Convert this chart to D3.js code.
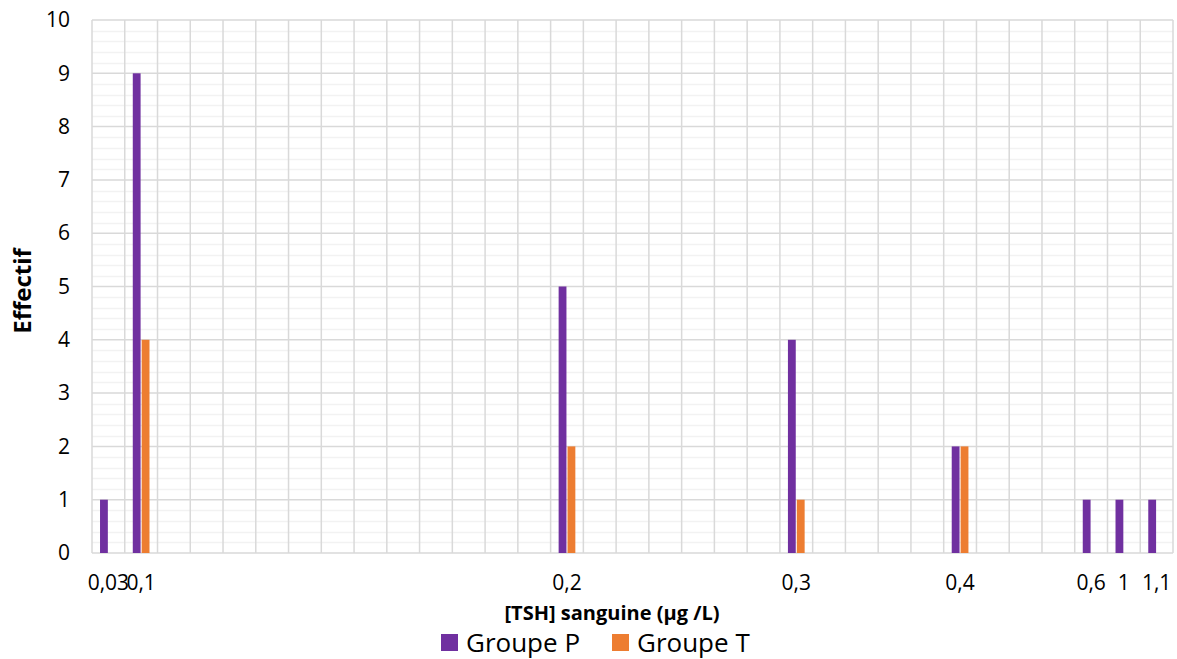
<!DOCTYPE html>
<html>
<head>
<meta charset="utf-8">
<script src="https://cdn.jsdelivr.net/npm/d3@7"></script>
<style>
  html, body { margin: 0; padding: 0; background: #fff; }
  svg { display: block; font-family: "Open Sans", sans-serif; }
</style>
</head>
<body>
<svg id="chart" width="1177" height="659"></svg>
<script>
// 33 category slots on the x axis; only some carry a label
const categoryLabels = ["0,03","0,1","","","","","","","","","","","","","0,2","","","","","","","0,3","","","","","0,4","","","","0,6","1","1,1"];
const groupP = [1,9,0,0,0,0,0,0,0,0,0,0,0,0,5,0,0,0,0,0,0,4,0,0,0,0,2,0,0,0,1,1,1];
const groupT = [0,4,0,0,0,0,0,0,0,0,0,0,0,0,2,0,0,0,0,0,0,1,0,0,0,0,2,0,0,0,0,0,0];
const seriesNames = ["Groupe P", "Groupe T"];
const seriesColors = ["#7030A0", "#ED7D31"];
const yTicks = [0,1,2,3,4,5,6,7,8,9,10];

const svg = d3.select("#chart");
const m = { left: 92, right: 1173, top: 20, bottom: 553 };

const idx = d3.range(categoryLabels.length);
const x = d3.scaleBand().domain(idx).range([m.left, m.right]).paddingInner(0).paddingOuter(0);
const y = d3.scaleLinear().domain([0, 10]).range([m.bottom, m.top]);
const groupW = x.bandwidth() * 0.51;
const xs = d3.scaleBand().domain([0, 1]).range([-groupW / 2, groupW / 2]).paddingInner(0.12);

// minor horizontal gridlines
const minor = d3.range(0, 10.0001, 0.2).filter(v => Math.abs(v - Math.round(v)) > 1e-6);
svg.append("g").selectAll("line").data(minor).join("line")
  .attr("x1", m.left).attr("x2", m.right)
  .attr("y1", d => Math.round(y(d)) + 0.5).attr("y2", d => Math.round(y(d)) + 0.5)
  .attr("stroke", "#f2f2f2").attr("stroke-width", 1.5);

// vertical gridlines (category boundaries)
const bounds = idx.map(i => x(i)).concat([m.right]);
svg.append("g").selectAll("line").data(bounds).join("line")
  .attr("x1", d => d).attr("x2", d => d)
  .attr("y1", m.top).attr("y2", m.bottom)
  .attr("stroke", "#d9d9d9").attr("stroke-width", 1.5);

// major horizontal gridlines
svg.append("g").selectAll("line").data(yTicks).join("line")
  .attr("x1", m.left).attr("x2", m.right)
  .attr("y1", d => y(d)).attr("y2", d => y(d))
  .attr("stroke", "#d9d9d9").attr("stroke-width", 1.5);

// bars
[groupP, groupT].forEach((vals, s) => {
  svg.append("g").selectAll("rect").data(idx.filter(i => vals[i] > 0)).join("rect")
    .attr("x", i => x(i) + x.bandwidth() / 2 + xs(s))
    .attr("width", xs.bandwidth())
    .attr("y", i => y(vals[i]))
    .attr("height", i => y(0) - y(vals[i]))
    .attr("fill", seriesColors[s]);
});

// y axis labels
const yAxis = d3.axisLeft(y).tickValues(yTicks).tickSize(0).tickPadding(22).tickFormat(d3.format("d"));
const gy = svg.append("g").attr("transform", `translate(${m.left},0)`).call(yAxis);
gy.select(".domain").remove();
gy.selectAll("text").attr("font-family", "Open Sans").attr("font-size", 21).attr("fill", "#000");

// x axis labels
const xAxis = d3.axisBottom(x).tickSize(0).tickPadding(23).tickFormat(i => categoryLabels[i]);
const gx = svg.append("g").attr("transform", `translate(0,${m.bottom})`).call(xAxis);
gx.select(".domain").remove();
gx.selectAll("text").attr("font-family", "Open Sans").attr("font-size", 21).attr("fill", "#000")
  .attr("dy", "0.66em");

// axis titles
svg.append("text").attr("x", 612).attr("y", 620).attr("text-anchor", "middle")
  .attr("font-family", "Open Sans").attr("font-weight", "bold").attr("font-size", 20).attr("fill", "#000")
  .text("[TSH] sanguine (µg /L)");
svg.append("text").attr("transform", "translate(31,291) rotate(-90)").attr("text-anchor", "middle")
  .attr("font-family", "Open Sans").attr("font-weight", "bold").attr("font-size", 24).attr("fill", "#000")
  .text("Effectif");

// legend
const legendX = [441, 612];
const lg = svg.append("g").selectAll("g").data(seriesNames).join("g")
  .attr("transform", (d, i) => `translate(${legendX[i]},634)`);
lg.append("rect").attr("width", 17).attr("height", 17).attr("fill", (d, i) => seriesColors[i]);
lg.append("text").attr("x", 25).attr("y", 17.5).attr("font-family", "Open Sans").attr("font-size", 26).attr("fill", "#000")
  .text(d => d);
</script>
</body>
</html>
